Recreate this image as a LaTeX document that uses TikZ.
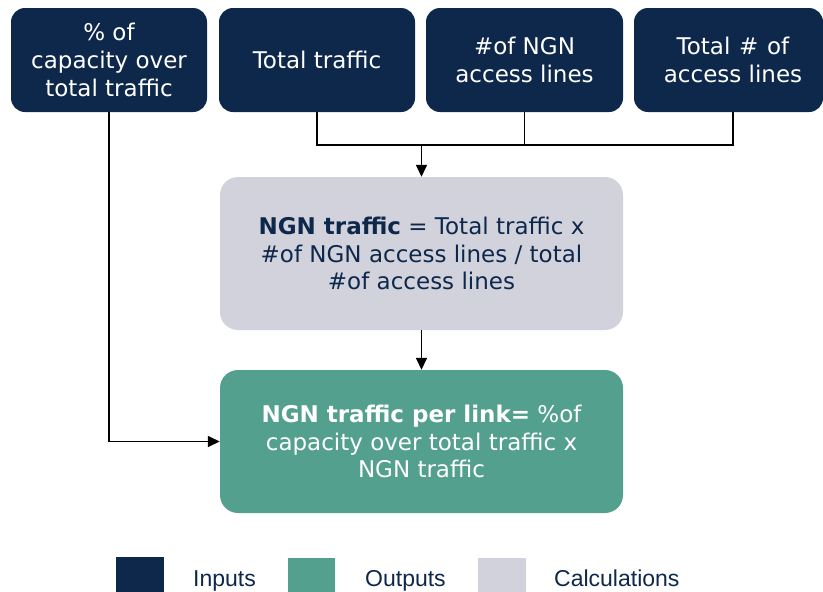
\documentclass[tikz,border=0pt]{standalone}
\usepackage{fontspec}
\setmainfont{DejaVu Sans}
\newfontfamily\legfont{Liberation Sans}
\usetikzlibrary{arrows.meta}
\definecolor{navy}{RGB}{14,40,75}
\definecolor{outgreen}{RGB}{84,160,142}
\definecolor{calcgray}{RGB}{210,210,220}
\begin{document}
\begin{tikzpicture}[x=1pt,y=-1pt,
  boxbase/.style={inner sep=0pt, align=center, font=\fontsize{23}{27.8}\selectfont},
  inbox/.style={boxbase, fill=navy, text=white, rounded corners=14pt, minimum height=104pt},
  calcbox/.style={boxbase, fill=calcgray, text=navy, rounded corners=18pt, minimum width=403pt, minimum height=153pt},
  outbox/.style={boxbase, fill=outgreen, text=white, rounded corners=18pt, minimum width=403pt, minimum height=143pt},
  conn/.style={draw=black, line width=1.5pt},
  arr/.style={-{Triangle[length=12pt,width=11pt]}},
  legsq/.style={inner sep=0pt, minimum width=47pt, minimum height=35pt},
  legtext/.style={anchor=base west, inner sep=0pt, text=navy, font=\legfont\fontsize{23}{27}\selectfont}
]
\useasboundingbox (0,0) rectangle (823,592);
\node[inbox, minimum width=196pt] (b1) at (109,60) {\% of\\capacity over\\total traffic};
\node[inbox, minimum width=196pt] (b2) at (317,60) {Total traffic};
\node[inbox, minimum width=197pt] (b3) at (524.5,60) {\#of NGN\\access lines};
\node[inbox, minimum width=189pt] (b4) at (728.5,60) {\hspace*{9pt}Total\hspace{0.38em}\#\hspace{0.38em}of\\\hspace*{9pt}access lines};
\node[calcbox] (calc) at (421.5,253.5) {\textbf{NGN traffic} = Total traffic x\\\#of NGN access lines / total\\\#of access lines};
\node[outbox] (out) at (421.5,441.5) {\textbf{NGN traffic per link=} \%of\\capacity over total traffic x\\NGN traffic};
\coordinate (bus) at (422,145);
\coordinate (b4x) at ([xshift=4.5pt]b4.south);
\draw[conn] (b2.south) -- (b2.south |- bus) -- (b4x |- bus) -- (b4x);
\draw[conn] (b3.south) -- (b3.south |- bus);
\draw[conn,arr] (calc.north |- bus) -- (calc.north);
\draw[conn,arr] (calc.south) -- (out.north);
\draw[conn,arr] (b1.south) |- (out.west);
\node[legsq, fill=navy, minimum width=48pt, minimum height=36pt] (lin) at (140,575) {};
\node[legsq, fill=outgreen] (lout) at (311.5,575.5) {};
\node[legsq, fill=calcgray, minimum width=48pt] (lcalc) at (502,575.5) {};
\node[legtext] (tin) at (193,586) {Inputs};
\node[legtext] (tout) at (365,586) {Outputs};
\node[legtext] (tcalc) at (554,586) {Calculations};
\end{tikzpicture}
\end{document}
